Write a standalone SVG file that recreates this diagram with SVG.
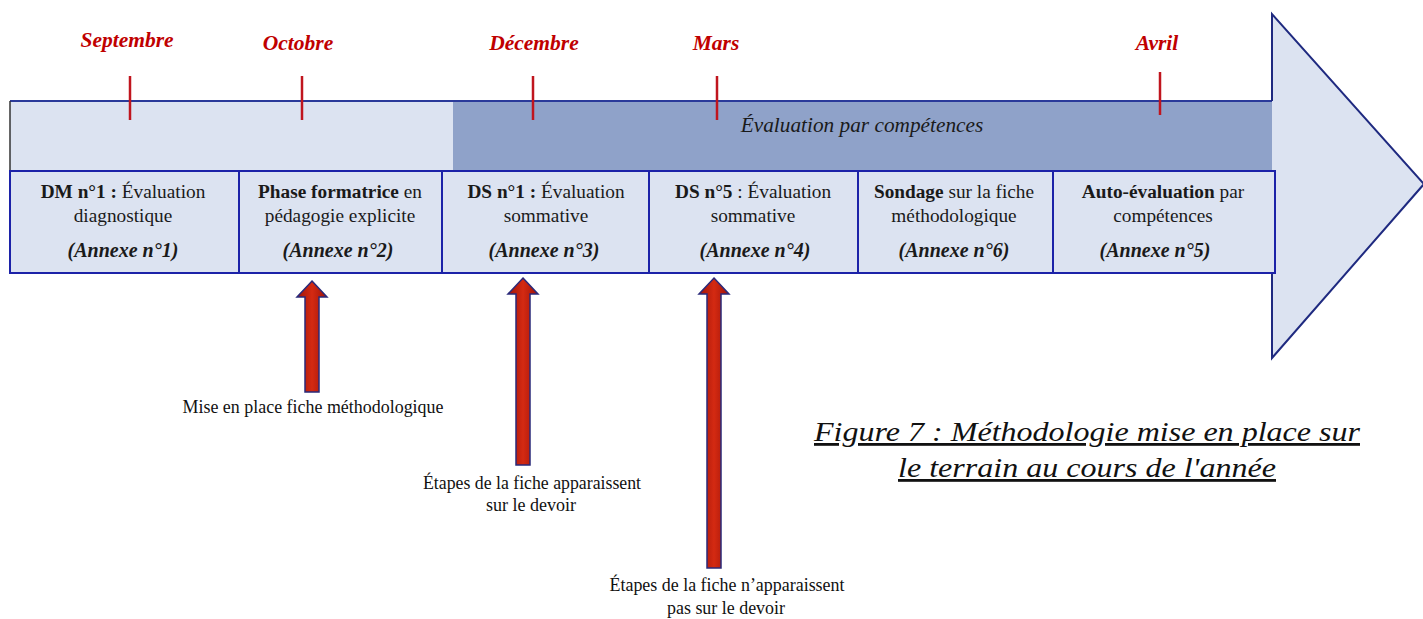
<svg xmlns="http://www.w3.org/2000/svg" width="1423" height="619" viewBox="0 0 1423 619">
<defs>
<style>
text{font-family:"Liberation Serif","Times New Roman","DejaVu Serif","Noto Serif",serif}
.month{font-weight:bold;font-style:italic;font-size:21.5px;fill:#c00000;text-anchor:middle}
.tick{stroke:#c0151e;stroke-width:2.5}
.cell{font-size:19.3px;fill:#1a1a1a;text-anchor:middle}
.b{font-weight:bold}
.ann{font-size:20px;font-weight:bold;font-style:italic;fill:#1a1a1a;text-anchor:middle}
.lbl{font-size:18px;fill:#111;text-anchor:middle}
.cap{font-style:italic;font-size:28px;fill:#111;text-anchor:middle;text-decoration:underline}
.div{stroke:#1c22a8;stroke-width:2}
.redarrow{fill:url(#rg);stroke:#2a2a7a;stroke-width:1.5;stroke-linejoin:miter}
</style>
<linearGradient id="rg" x1="0" y1="0" x2="1" y2="0">
<stop offset="0" stop-color="#9e1208"/>
<stop offset="0.5" stop-color="#d42a12"/>
<stop offset="1" stop-color="#9e1208"/>
</linearGradient>
</defs>
<rect width="1423" height="619" fill="#ffffff"/>

<g id="timeline">
<rect x="10" y="101" width="443" height="70" fill="#dce3f1"/>
<rect x="453" y="101" width="820" height="70" fill="#8fa2c9"/>
<line x1="10" y1="101" x2="1273" y2="101" stroke="#2a3a9a" stroke-width="2"/>
<line x1="10" y1="101" x2="10" y2="171" stroke="#333" stroke-width="1.5"/>
<path d="M1272,101 L1272,14 L1424,184 L1272,358 L1272,273" fill="#dce3f1" stroke="#1f2a80" stroke-width="2"/>
<rect x="10" y="171" width="1265" height="102" fill="#dce3f1" stroke="#1c22a8" stroke-width="2"/>
<text x="862" y="132" font-style="italic" font-size="21.3" fill="#1a1a1a" text-anchor="middle">Évaluation par compétences</text>
</g>

<g id="months">
<text class="month" x="127" y="47">Septembre</text>
<text class="month" x="298" y="50">Octobre</text>
<text class="month" x="534" y="50">Décembre</text>
<text class="month" x="716" y="50">Mars</text>
<text class="month" x="1157" y="50">Avril</text>
<line class="tick" x1="130" y1="76" x2="130" y2="120"/>
<line class="tick" x1="302" y1="76" x2="302" y2="120"/>
<line class="tick" x1="533" y1="76" x2="533" y2="120"/>
<line class="tick" x1="717" y1="76" x2="717" y2="120"/>
<line class="tick" x1="1160" y1="72" x2="1160" y2="115"/>
</g>

<g id="cell-dm1">
<text class="cell" x="123" y="198"><tspan class="b">DM n°1 :</tspan> Évaluation</text>
<text class="cell" x="123" y="222">diagnostique</text>
<text class="ann" x="123" y="257">(Annexe n°1)</text>
</g>
<g id="cell-phase">
<line class="div" x1="239" y1="171" x2="239" y2="273"/>
<text class="cell" x="340" y="198"><tspan class="b">Phase formatrice</tspan> en</text>
<text class="cell" x="340" y="222">pédagogie explicite</text>
<text class="ann" x="338" y="257">(Annexe n°2)</text>
</g>
<g id="cell-ds1">
<line class="div" x1="442" y1="171" x2="442" y2="273"/>
<text class="cell" x="546" y="198"><tspan class="b">DS n°1 :</tspan> Évaluation</text>
<text class="cell" x="546" y="222">sommative</text>
<text class="ann" x="544" y="257">(Annexe n°3)</text>
</g>
<g id="cell-ds5">
<line class="div" x1="649" y1="171" x2="649" y2="273"/>
<text class="cell" x="753" y="198"><tspan class="b">DS n°5</tspan> : Évaluation</text>
<text class="cell" x="753" y="222">sommative</text>
<text class="ann" x="755" y="257">(Annexe n°4)</text>
</g>
<g id="cell-sondage">
<line class="div" x1="858" y1="171" x2="858" y2="273"/>
<text class="cell" x="954" y="198"><tspan class="b">Sondage</tspan> sur la fiche</text>
<text class="cell" x="954" y="222">méthodologique</text>
<text class="ann" x="954" y="257">(Annexe n°6)</text>
</g>
<g id="cell-auto">
<line class="div" x1="1053" y1="171" x2="1053" y2="273"/>
<text class="cell" x="1163" y="198"><tspan class="b">Auto-évaluation</tspan> par</text>
<text class="cell" x="1163" y="222">compétences</text>
<text class="ann" x="1155" y="257">(Annexe n°5)</text>
</g>

<g id="connectors">
<path class="redarrow" d="M312,281 L327,297 L319,297 L319,392 L305,392 L305,297 L297,297 Z"/>
<path class="redarrow" d="M523,278 L538,294 L530,294 L530,465 L516,465 L516,294 L508,294 Z"/>
<path class="redarrow" d="M714,278 L729,294 L721,294 L721,568 L707,568 L707,294 L699,294 Z"/>
</g>

<g id="label-mise">
<text class="lbl" x="313" y="413" textLength="261" lengthAdjust="spacingAndGlyphs">Mise en place fiche méthodologique</text>
</g>
<g id="label-etapes1">
<text class="lbl" x="532" y="489" textLength="218" lengthAdjust="spacingAndGlyphs">Étapes de la fiche apparaissent</text>
<text class="lbl" x="531" y="511" textLength="90" lengthAdjust="spacingAndGlyphs">sur le devoir</text>
</g>
<g id="label-etapes2">
<text class="lbl" x="727" y="591" textLength="235" lengthAdjust="spacingAndGlyphs">Étapes de la fiche n’apparaissent</text>
<text class="lbl" x="726" y="614" textLength="118" lengthAdjust="spacingAndGlyphs">pas sur le devoir</text>
</g>

<g id="caption">
<text class="cap" x="1087" y="441" textLength="546" lengthAdjust="spacingAndGlyphs">Figure 7 : Méthodologie mise en place sur</text>
<text class="cap" x="1087" y="477" textLength="378" lengthAdjust="spacingAndGlyphs">le terrain au cours de l'année</text>
</g>
</svg>
